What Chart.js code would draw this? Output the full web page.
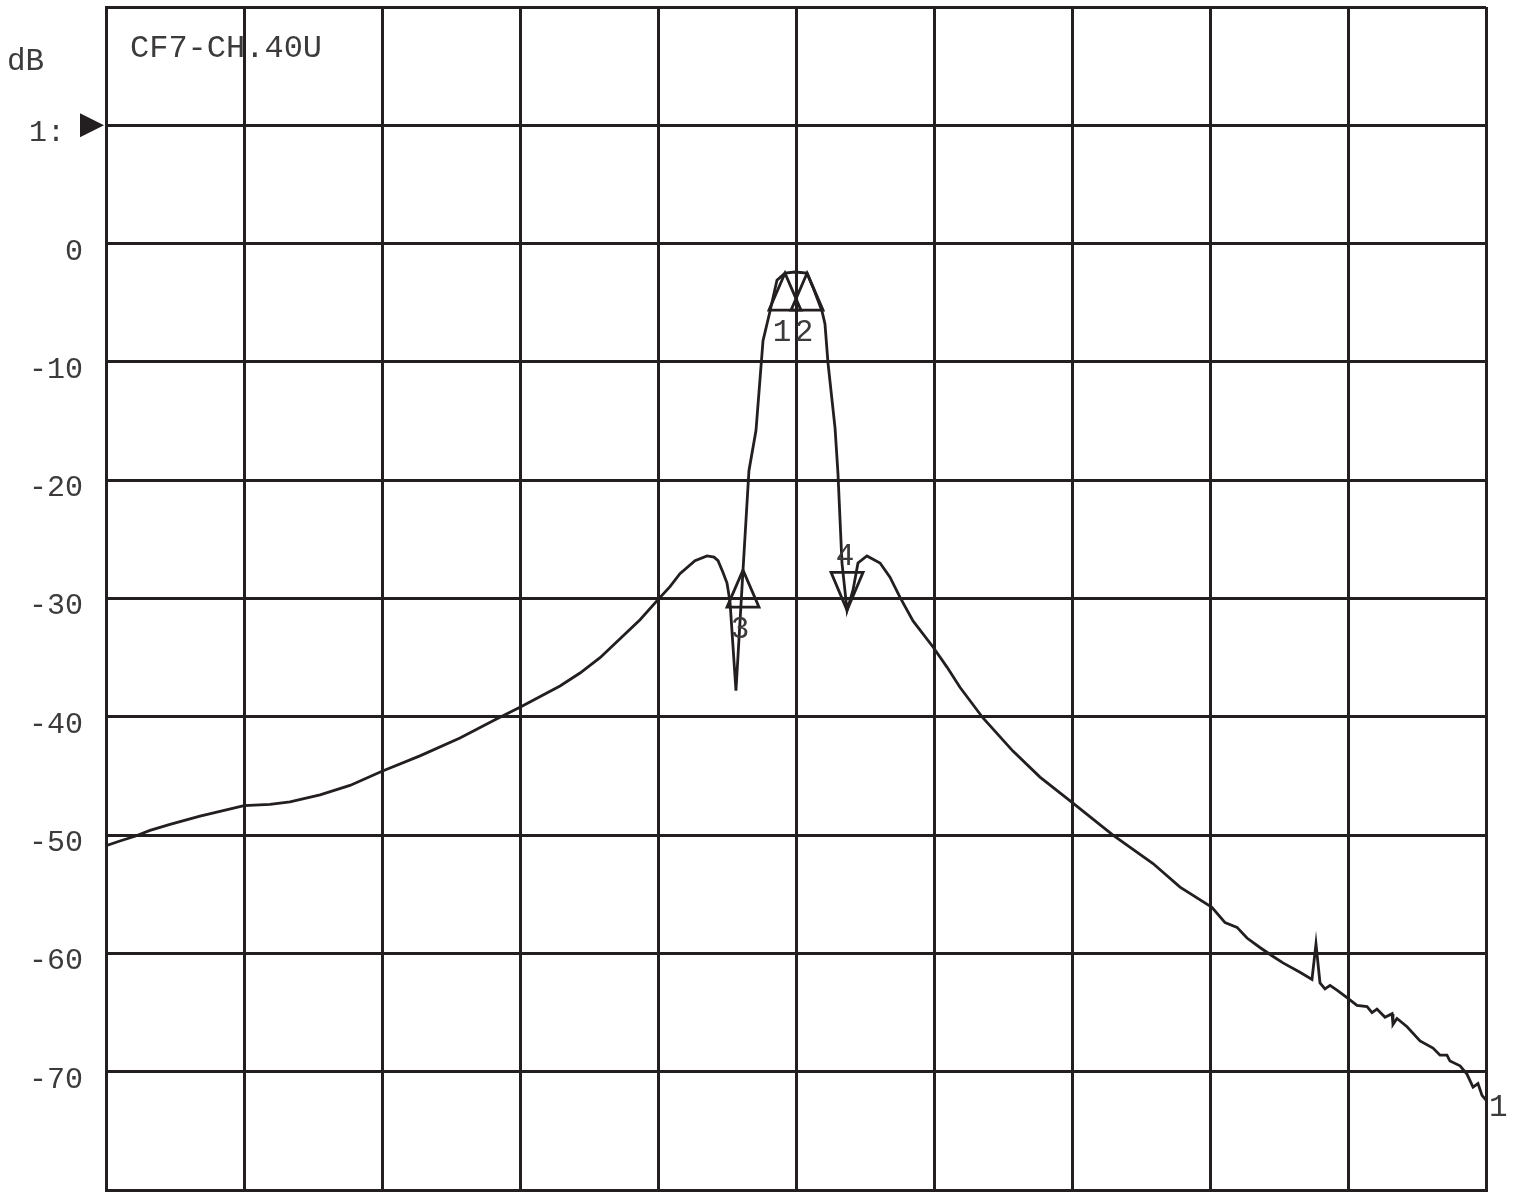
<!DOCTYPE html>
<html>
<head>
<meta charset="utf-8">
<script src="https://cdn.jsdelivr.net/npm/chart.js@4.4.1/dist/chart.umd.min.js"></script>
<style>
html,body{margin:0;padding:0;background:#fff;}
#wrap{width:1517px;height:1192px;}
</style>
</head>
<body>
<div id="wrap"><canvas id="c" width="1517" height="1192"></canvas></div>
<script>
// Sweep position in grid divisions (0..10) and response in dB
const xDiv = [0,0.101,0.210,0.319,0.464,0.681,0.826,1.0,1.188,1.333,1.551,1.768,2.0,2.275,2.565,2.826,3.0,3.290,3.435,3.580,3.725,3.870,4.0,4.087,4.159,4.268,4.355,4.406,4.435,4.471,4.500,4.522,4.565,4.616,4.659,4.710,4.761,4.812,4.862,4.920,4.993,5.080,5.123,5.188,5.210,5.232,5.283,5.304,5.333,5.370,5.413,5.449,5.514,5.609,5.681,5.754,5.848,5.993,6.094,6.188,6.355,6.572,6.768,7.007,7.297,7.587,7.783,8.014,8.109,8.196,8.268,8.362,8.449,8.529,8.652,8.739,8.768,8.797,8.833,8.870,8.920,9.0,9.065,9.138,9.174,9.210,9.268,9.319,9.326,9.355,9.428,9.522,9.616,9.667,9.717,9.739,9.812,9.862,9.906,9.942,9.971,10.0];
const dbValues = [-50.9,-50.5,-50.1,-49.6,-49.1,-48.4,-48.0,-47.5,-47.4,-47.2,-46.6,-45.8,-44.6,-43.3,-41.8,-40.2,-39.2,-37.4,-36.3,-35.0,-33.4,-31.8,-30.1,-29.0,-27.9,-26.8,-26.4,-26.5,-26.8,-27.8,-28.7,-30.3,-37.8,-27.6,-19.2,-15.8,-8.2,-5.7,-3.1,-2.5,-2.4,-2.5,-3.7,-5.7,-6.8,-10.1,-15.6,-19.4,-27.0,-31.0,-29.3,-27.0,-26.4,-27.0,-28.2,-29.9,-31.9,-34.1,-35.8,-37.5,-40.1,-42.9,-45.1,-47.3,-50.0,-52.4,-54.4,-56.1,-57.4,-57.8,-58.7,-59.5,-60.2,-60.8,-61.6,-62.2,-59.2,-62.5,-63.0,-62.7,-63.1,-63.8,-64.4,-64.5,-65.0,-64.7,-65.4,-65.1,-66.0,-65.5,-66.2,-67.4,-68.0,-68.6,-68.6,-69.1,-69.5,-70.2,-71.3,-71.0,-72.0,-72.4];

// Markers
const markerLabels = ['1','2','3','4'];
const markerX = [4.92, 5.08, 4.616, 5.37];
const markerY = [-2.5, -2.5, -27.6, -31.0];
const markerDir = ['up','up','up','down'];

// Axis
const yTicks = [20,10,0,-10,-20,-30,-40,-50,-60,-70,-80];
const yTickLabels = ['', '1: ', '0', '-10', '-20', '-30', '-40', '-50', '-60', '-70', ''];
const refLevel = 10;
const titleText = 'CF7-CH.40U';
const unitText = 'dB';
const traceLabel = '1';

const INK = '#231f20';
const TXT = '#3d3a3b';
const MONO = '"Liberation Mono", "DejaVu Sans Mono", monospace';

const overlay = {
  id: 'overlay',
  afterDatasetsDraw(chart) {
    const ctx = chart.ctx, xs = chart.scales.x, ys = chart.scales.y;
    ctx.save();
    ctx.strokeStyle = INK; ctx.lineWidth = 2.8; ctx.lineJoin = 'miter';
    ctx.fillStyle = TXT; ctx.font = '31px ' + MONO; ctx.textBaseline = 'middle'; ctx.textAlign = 'center';
    for (let i = 0; i < markerX.length; i++) {
      const px = xs.getPixelForValue(markerX[i]);
      const py = ys.getPixelForValue(markerY[i]);
      ctx.beginPath();
      if (markerDir[i] === 'up') {
        ctx.moveTo(px, py); ctx.lineTo(px + 16, py + 37); ctx.lineTo(px - 16, py + 37); ctx.closePath();
        ctx.stroke();
        ctx.fillText(markerLabels[i], px - 3, py + 60);
      } else {
        ctx.moveTo(px, py); ctx.lineTo(px + 16, py - 38); ctx.lineTo(px - 16, py - 38); ctx.closePath();
        ctx.stroke();
        ctx.fillText(markerLabels[i], px - 2, py - 54);
      }
    }
    const lx = xs.getPixelForValue(xDiv[xDiv.length - 1]);
    const ly = ys.getPixelForValue(dbValues[dbValues.length - 1]);
    ctx.textAlign = 'left';
    ctx.fillText(traceLabel, lx + 3, ly + 8);
    ctx.font = '32px ' + MONO;
    ctx.fillText(titleText, chart.chartArea.left + 24, 49);
    ctx.font = '31px ' + MONO;
    ctx.fillText(unitText, 7, 62);
    const ry = ys.getPixelForValue(refLevel);
    const ax = chart.chartArea.left - 2;
    ctx.fillStyle = INK;
    ctx.beginPath();
    ctx.moveTo(ax, ry); ctx.lineTo(ax - 24, ry - 12); ctx.lineTo(ax - 24, ry + 12); ctx.closePath();
    ctx.fill();
    ctx.restore();
  }
};

new Chart(document.getElementById('c'), {
  type: 'line',
  data: {
    datasets: [{
      data: xDiv.map((x, i) => ({x: x, y: dbValues[i]})),
      borderColor: INK,
      borderWidth: 2.8,
      pointRadius: 0,
      tension: 0,
      fill: false
    }]
  },
  options: {
    responsive: false,
    devicePixelRatio: 1,
    animation: false,
    events: [],
    layout: { padding: { top: 7, right: 31, bottom: 2, left: 0 } },
    plugins: { legend: { display: false }, tooltip: { enabled: false }, title: { display: false } },
    scales: {
      x: {
        type: 'linear', min: 0, max: 10,
        ticks: { display: false, stepSize: 1 },
        grid: { color: INK, lineWidth: 3, drawTicks: false },
        border: { color: INK, width: 3 },
        afterFit(s) { s.height = 0; s.paddingLeft = 0; s.paddingRight = 0; s.paddingTop = 0; s.paddingBottom = 0; }
      },
      y: {
        type: 'linear', min: -80, max: 20,
        afterBuildTicks(s) { s.ticks = yTicks.map(v => ({value: v})); },
        ticks: {
          callback(v) { const i = yTicks.indexOf(v); return i >= 0 ? yTickLabels[i] : ''; },
          font: { family: MONO, size: 30 },
          color: TXT,
          padding: 23,
          labelOffset: 8
        },
        grid: { color: INK, lineWidth: 3, drawTicks: false },
        border: { color: INK, width: 3 },
        afterFit(s) { s.width = 106; s.paddingTop = 0; s.paddingBottom = 0; s.paddingLeft = 0; s.paddingRight = 0; }
      }
    }
  },
  plugins: [overlay]
});
</script>
</body>
</html>
